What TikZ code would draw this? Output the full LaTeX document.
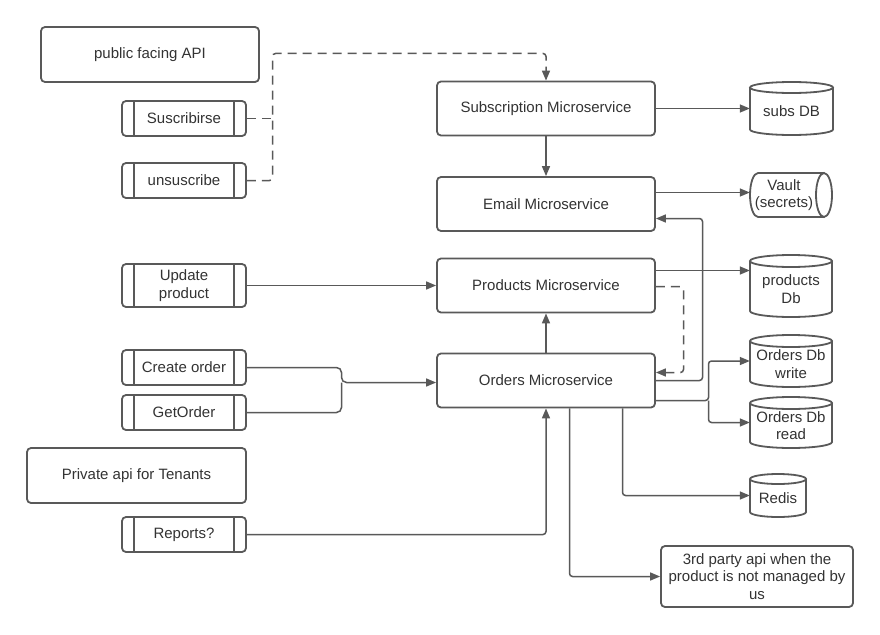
\documentclass[tikz,border=0pt]{standalone}
\usepackage{fontspec}
\setmainfont{Liberation Sans}
\usetikzlibrary{arrows.meta}
\definecolor{ln}{HTML}{595959}
\definecolor{tx}{HTML}{333333}
\tikzset{
  shp/.style={draw=ln, line width=1.8pt, fill=white, rounded corners=4pt, text=tx,
    font=\fontsize{15}{17.5}\selectfont, align=center, inner sep=0pt},
  svc/.style={shp, minimum width=218pt, minimum height=54pt},
  conn/.style={draw=ln, line width=1.5pt, rounded corners=3pt, -{Triangle[length=10pt,width=8pt]}},
  plainline/.style={draw=ln, line width=1.5pt, rounded corners=3pt},
  dsh/.style={dash pattern=on 9pt off 6pt},
  cylt/.style={text=tx, font=\fontsize{15}{17.5}\selectfont, align=center, inner sep=0pt},
  cylborder/.style={draw=ln, line width=1.8pt},
}
\newcommand\procbox[4]{%
  \node[shp, minimum width=124pt, minimum height=#3] (#1) at (#2) {#4};
  \draw[cylborder] ([xshift=13pt]#1.north west) -- ([xshift=13pt]#1.south west)
    ([xshift=-13pt]#1.north east) -- ([xshift=-13pt]#1.south east);
}
\newcommand\vcyl[7]{%
  \pgfmathsetmacro\cyx{(#2+#4)/2}%
  \pgfmathsetmacro\cyr{(#4-#2)/2}%
  \pgfmathsetmacro\cyy{(#3+#5)/2}%
  \pgfmathsetmacro\cyw{#4-#2}%
  \pgfmathsetmacro\cyh{#5-#3}%
  \fill[white] (#2,#3+#6) -- (#2,#5-#6) arc[start angle=180,end angle=360,x radius=\cyr pt,y radius=#6pt]
    -- (#4,#3+#6) arc[start angle=0,end angle=180,x radius=\cyr pt,y radius=#6pt] -- cycle;
  \draw[cylborder] (#2,#3+#6) -- (#2,#5-#6) arc[start angle=180,end angle=360,x radius=\cyr pt,y radius=#6pt]
    -- (#4,#3+#6);
  \draw[cylborder] (\cyx,#3+#6) ellipse[x radius=\cyr pt,y radius=#6pt];
  \node[inner sep=0pt, minimum width=\cyw pt, minimum height=\cyh pt] (#1) at (\cyx,\cyy) {};
  \node[cylt] (#1t) at ([yshift=-#6pt/2]#1.center) {#7};
}
\begin{document}
\begin{tikzpicture}[x=1pt,y=-1pt]
\useasboundingbox[fill=white] (0,0) rectangle (880,634);

% left side
\node[shp, minimum width=218pt, minimum height=55pt] (pub) at (150,54.5) {public facing API};
\procbox{sus}{184,118.5}{35pt}{Suscribirse}
\procbox{unsus}{184,180.5}{35pt}{unsuscribe}
\procbox{upd}{184,285.5}{43pt}{Update\\product}
\procbox{create}{184,367.5}{35pt}{Create order}
\procbox{getord}{184,412.5}{35pt}{GetOrder}
\node[shp, minimum width=219pt, minimum height=55pt] (priv) at (136.5,475.5) {Private api for Tenants};
\procbox{reports}{184,534.5}{35pt}{Reports?}

% services
\node[svc] (subms) at (546,108.5) {Subscription Microservice};
\node[svc] (email) at (546,204) {Email Microservice};
\node[svc] (prodms) at (546,285.5) {Products Microservice};
\node[svc] (ordms) at (546,380.5) {Orders Microservice};
\node[shp, minimum width=192pt, minimum height=61pt] (third) at (757,576.5) {3rd party api when the\\product is not managed by\\us};

% stores
\vcyl{subsdb}{750}{82}{833}{135}{5.5}{subs DB}
\fill[white] (824,173) -- (758,173) arc[start angle=90,end angle=270,x radius=8pt,y radius=22pt] -- (824,217) -- cycle;
\draw[cylborder] (824,173) -- (758,173) arc[start angle=90,end angle=270,x radius=8pt,y radius=22pt] -- (824,217);
\draw[cylborder, fill=white] (824,195) ellipse[x radius=8pt,y radius=22pt];
\node[inner sep=0pt, minimum width=82pt, minimum height=44pt] (vault) at (791,195) {};
\node[cylt] (vaultt) at ([xshift=-7pt]vault.center) {Vault\\(secrets)};
\vcyl{proddb}{750}{255}{832}{317}{6}{products\\Db}
\vcyl{owrite}{750}{335}{832}{387}{6}{Orders Db\\write}
\vcyl{oread}{750}{397}{832}{448}{6}{Orders Db\\read}
\vcyl{redis}{750}{474}{806}{517}{5}{Redis}

% connectors
\coordinate (dj) at (272.5,53.5);
\draw[plainline,dsh] (sus.east) -- (sus.east -| dj);
\draw[conn,dsh] (unsus.east) -| (dj) -| (subms.north);
\draw[conn] (subms.south) -- (email.north);
\draw[conn] (subms.east) -- (subsdb.west);
\coordinate (vj) at (700,192.5);
\draw[conn] (email.east |- vj) -- (vault.west |- vj);
\coordinate (oe) at (702.5,218.5);
\draw[conn] (ordms.east) -| (oe) -- (email.east |- oe);
\coordinate (pd) at (700,270.5);
\draw[conn] (prodms.east |- pd) -- (proddb.west |- pd);
\coordinate (pdash) at (683.5,286.5);
\coordinate (pd2) at (683.5,372.5);
\draw[conn,dsh] (prodms.east |- pdash) -- (pdash) -- (pd2) -- (ordms.east |- pd2);
\coordinate (ob) at (708.5,400.5);
\draw[conn] (ordms.east |- ob) -- (ob) |- (owrite.west);
\draw[conn] (ob) |- (oread.west);
\coordinate (rxj) at (622.5,495.5);
\draw[conn] (ordms.south -| rxj) |- (redis.west);
\coordinate (tpj) at (569.5,576.5);
\draw[conn] (ordms.south -| tpj) |- (third.west);
\draw[conn] (reports.east) -| (ordms.south);
\draw[conn] (upd.east) -- (prodms.west |- upd.east);
\coordinate (cj) at (341.5,382.5);
\draw[conn,rounded corners=5pt] (create.east) -| (cj) -- (ordms.west |- cj);
\draw[plainline,rounded corners=5pt] (getord.east) -| (cj);
\draw[conn] (ordms.north) -- (prodms.south);
\end{tikzpicture}
\end{document}
